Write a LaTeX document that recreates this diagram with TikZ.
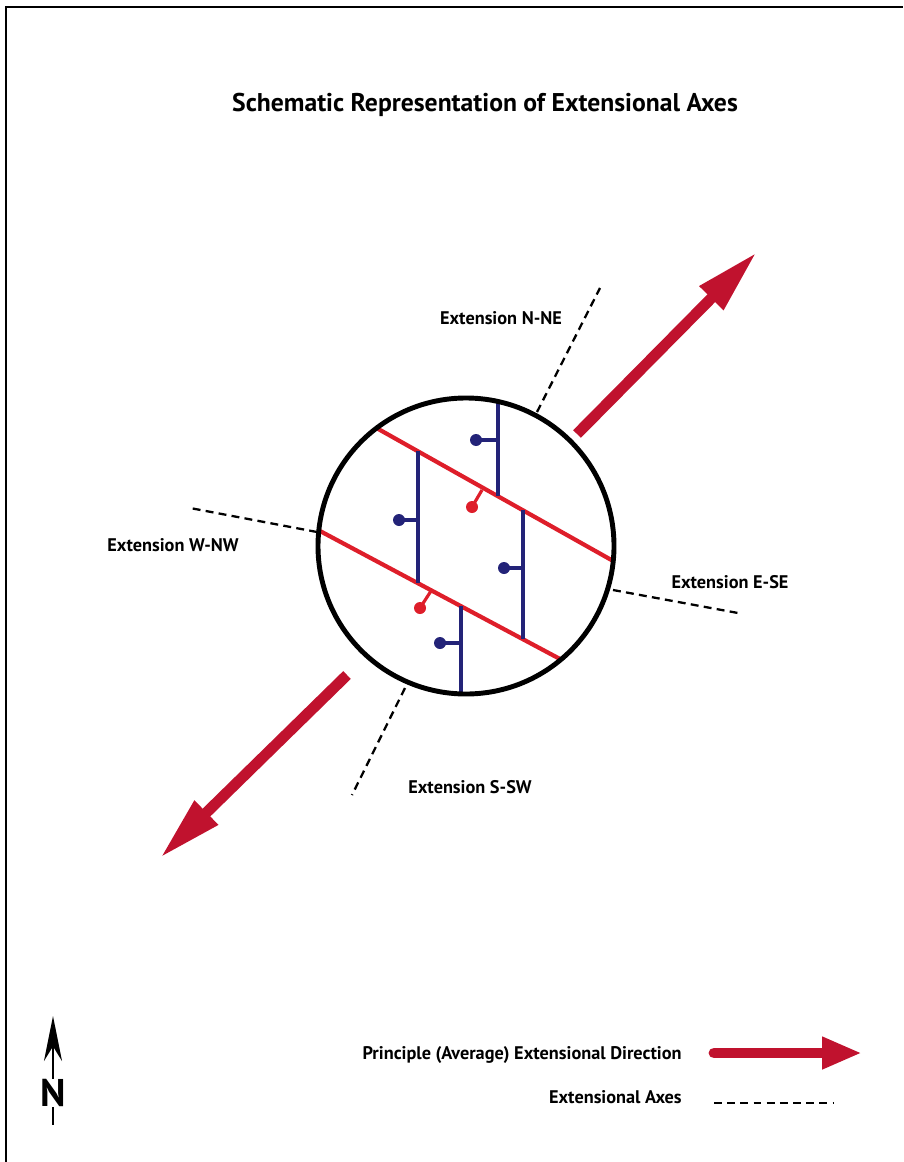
\documentclass[tikz,border=0pt]{standalone}
\usepackage{fontspec}
\setmainfont{PT Sans}
\usetikzlibrary{arrows.meta,positioning,calc}
\definecolor{faultred}{RGB}{222,30,42}
\definecolor{arrowred}{RGB}{192,18,46}
\definecolor{tickblue}{RGB}{35,35,120}

\begin{document}
\begin{tikzpicture}[x=0.02cm,y=-0.02cm,
    axisline/.style={black, line width=1.3pt, dash pattern=on 4.5pt off 3pt},
    bigarrow/.style={arrowred, line width=6.2pt, -{Triangle[length=1.3cm,width=0.62cm]}},
    fault/.style={faultred, line width=2.4pt},
    blueline/.style={tickblue, line width=1.8pt},
    lbl/.style={font=\fontsize{10.4}{11}\selectfont\bfseries, inner sep=0pt}]
    \useasboundingbox (0,0) rectangle (903,1162);
    % frame
    \draw[line width=1.6pt] (6,1162) -- (6,7) -- (903,7);
    \node[font=\fontsize{14.6}{16}\selectfont\bfseries] (title) at (485,105) {Schematic Representation of Extensional Axes};
    % fault block
    \coordinate (c) at (466,546);
    \begin{scope}
        \clip (c) circle (148);
        \draw[fault] (340,407.5) -- (660,587.3);
        \draw[fault] (290,515) -- (620,691);
        \draw[blueline] (498,380) -- (498,496);
        \draw[blueline] (418,451) -- (418,583);
        \draw[blueline] (523,510) -- (523,639);
        \draw[blueline] (461,606) -- (461,710);
    \end{scope}
    \draw[line width=2.8pt] (c) circle (148);
    % ball and bar ticks
    \draw[blueline] (498,440) -- (476,440);
    \draw[blueline] (418,520) -- (399,520);
    \draw[blueline] (523,568) -- (504,568);
    \draw[blueline] (461,643) -- (440,643);
    \fill[tickblue] (476,440) circle (6);
    \fill[tickblue] (399,520) circle (6);
    \fill[tickblue] (504,568) circle (6);
    \fill[tickblue] (440,643) circle (6);
    \draw[faultred, line width=1.8pt] (472,507) -- (482,490);
    \draw[faultred, line width=1.8pt] (420,608) -- (431,591);
    \fill[faultred] (472,507) circle (6);
    \fill[faultred] (420,608) circle (6);
    % extensional axes
    \draw[axisline] (537,412) -- (600,288);
    \draw[axisline] (405,688) -- (352,795);
    \draw[axisline] (317,532) -- (190,508);
    \draw[axisline] (613,590) -- (738,613);
    \node[lbl] (nne) at (501,318) {Extension N-NE};
    \node[lbl] (wnw) at (173,545) {Extension W-NW};
    \node[lbl] (ese) at (730,582) {Extension E-SE};
    \node[lbl] (ssw) at (470,787) {Extension S-SW};
    % principal direction
    \coordinate (netail) at (577,434);
    \coordinate (netip) at (757,252);
    \coordinate (swtail) at (347,675);
    \coordinate (swtip) at (160,858);
    \draw[bigarrow] (netail) -- (netip);
    \draw[bigarrow] (swtail) -- (swtip);
    % legend
    \node[lbl, anchor=east] (keydir) at (682,1055) {Principle (Average) Extensional Direction};
    \node[lbl, anchor=east] (keyaxes) at (682,1097) {Extensional Axes};
    \coordinate (keyarrowend) at (862,1053);
    \coordinate (keydashend) at (833,1103);
    \draw[bigarrow, line cap=round, -{Triangle[length=0.8cm,width=0.6cm]}] (keydir.east) ++(32,-2) -- (keyarrowend);
    \draw[axisline] (keyaxes.east) ++(32,6) -- (keydashend);
    % north arrow
    \node[font=\fontsize{22}{24}\selectfont\bfseries, inner sep=0pt] (north) at (53,1093) {N};
    \coordinate (ntip) at (53,1016);
    \coordinate (nend) at (53,1125);
    \draw[line width=1.6pt, -{Stealth[length=0.9cm,width=0.36cm]}] (north.north) -- (ntip);
    \draw[line width=1.6pt] (north.south) -- (nend);
\end{tikzpicture}
\end{document}
